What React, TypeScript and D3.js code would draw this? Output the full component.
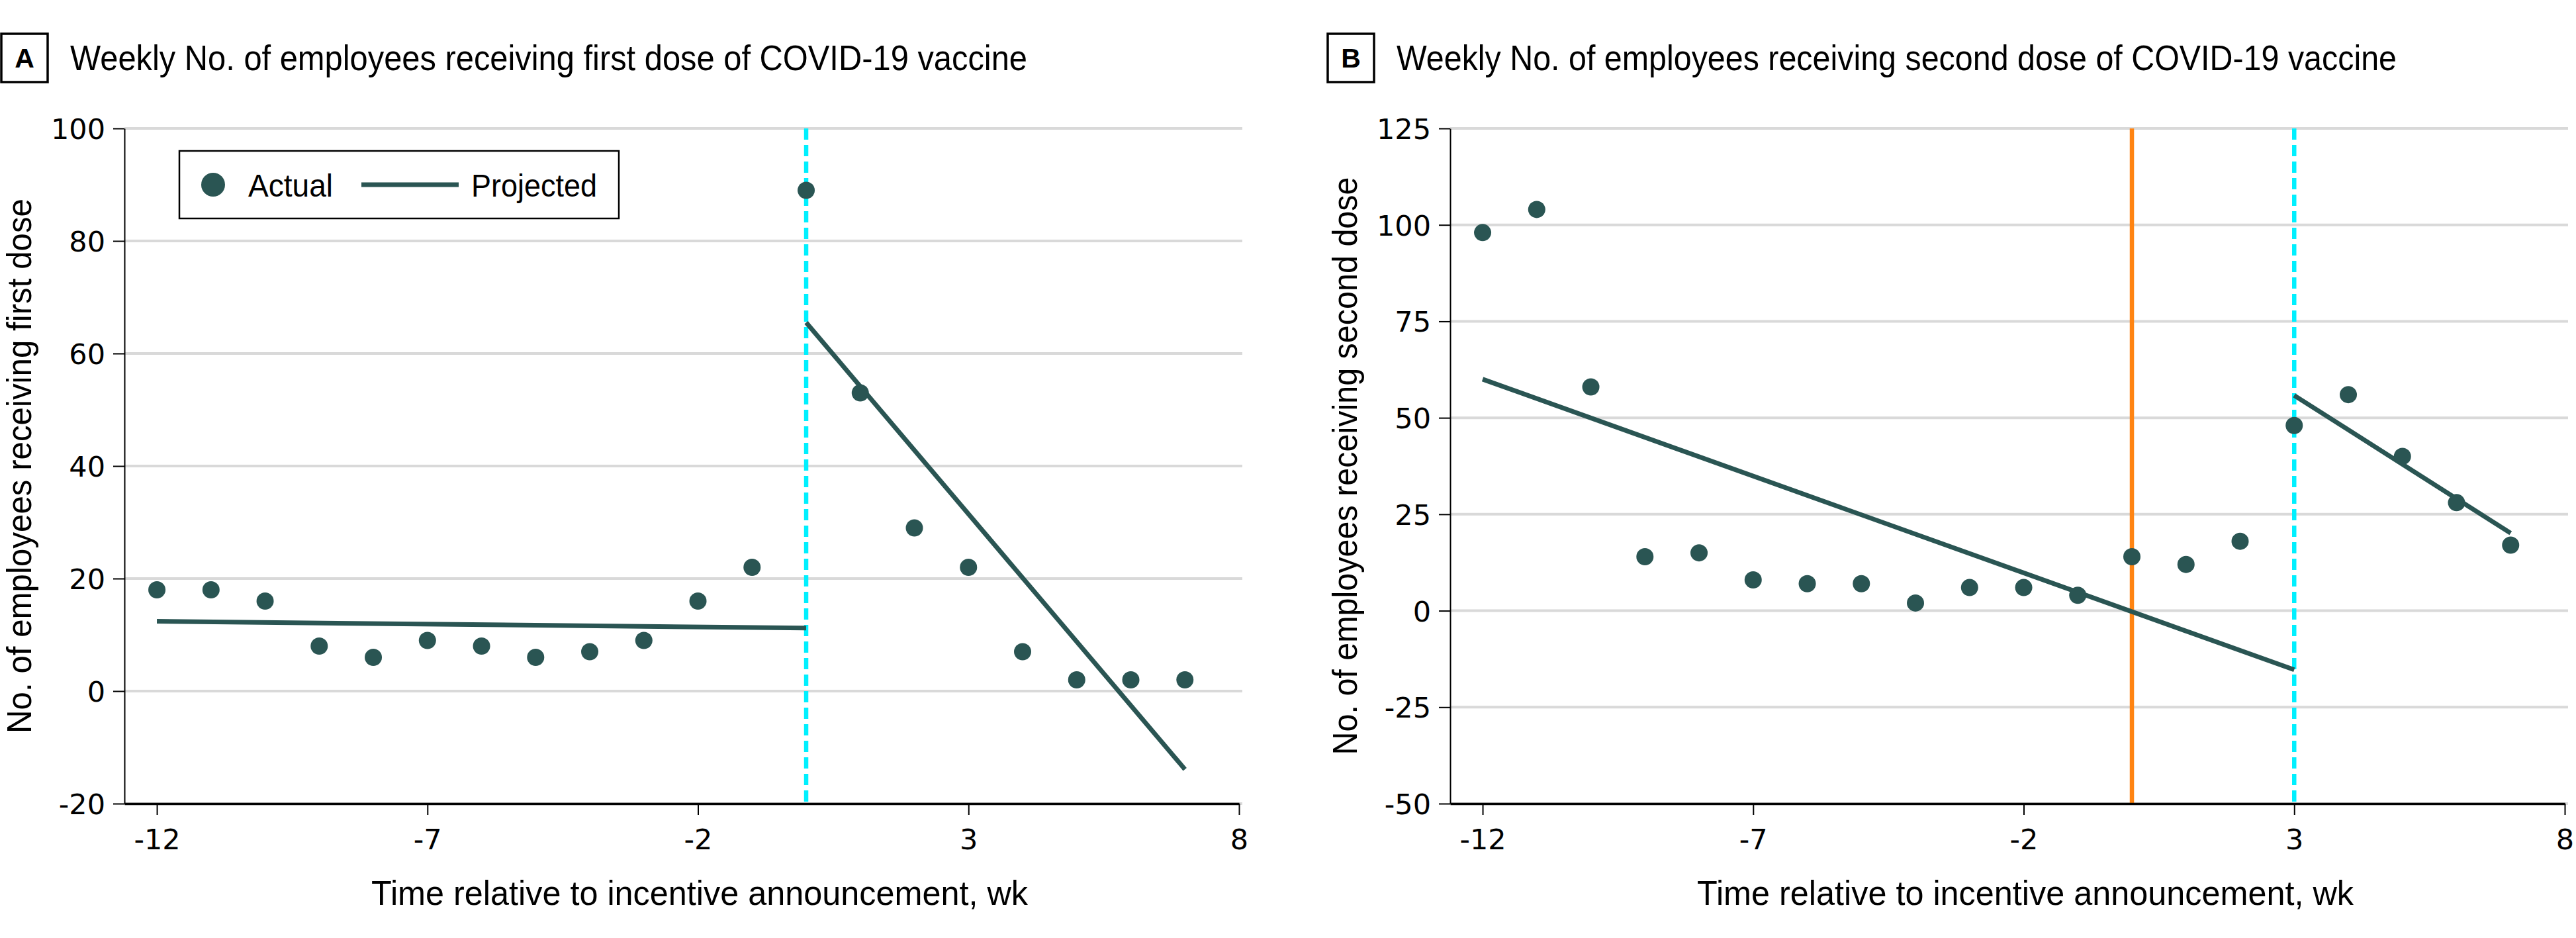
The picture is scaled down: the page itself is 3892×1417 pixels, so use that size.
import React, { useEffect, useRef } from 'react';
import * as d3 from 'd3';

// weeks relative to the incentive announcement
const weeks = [-12, -11, -10, -9, -8, -7, -6, -5, -4, -3, -2, -1, 0, 1, 2, 3, 4, 5, 6, 7];
const firstDose = [18, 18, 16, 8, 6, 9, 8, 6, 7, 9, 16, 22, 89, 53, 29, 22, 7, 2, 2, 2];
const secondDose = [98, 104, 58, 14, 15, 8, 7, 7, 2, 6, 6, 4, 14, 12, 18, 48, 56, 40, 28, 17];

// projected (fitted) segments, end points only
const firstProjX1 = [-12, 0];
const firstProjY1 = [12.4, 11.2];
const firstProjX2 = [0, 7];
const firstProjY2 = [65.5, -13.9];
const secondProjX1 = [-12, 3];
const secondProjY1 = [60, -15.3];
const secondProjX2 = [3, 7];
const secondProjY2 = [55.8, 20.1];

const xTicks = [-12, -7, -2, 3, 8];
const yTicksA = [-20, 0, 20, 40, 60, 80, 100];
const yTicksB = [-50, -25, 0, 25, 50, 75, 100, 125];

const TEAL = '#2a5553';
const CYAN = '#00f0ff';
const ORANGE = '#ff8412';
const NARROW = "'Liberation Sans Narrow','Liberation Sans',Arial,sans-serif";
const TICKFONT = "'DejaVu Sans',Verdana,sans-serif";

const drawPanel = (svg, p) => {
	const g = svg.append('g');
	const x = d3.scaleLinear().domain([-12.6, 8]).range([p.left, p.right]);
	const y = d3.scaleLinear().domain(p.yDomain).range([1214, 194]);

	// gridlines
	g.append('g').selectAll('line').data(p.yTicks).join('line')
		.attr('x1', x(-12.6)).attr('x2', p.right + 5)
		.attr('y1', d => y(d)).attr('y2', d => y(d))
		.attr('stroke', '#d9d9d9').attr('stroke-width', 4);

	// reference lines
	p.refs.forEach(r => {
		g.append('line')
			.attr('x1', x(r.at)).attr('x2', x(r.at))
			.attr('y1', y(p.yDomain[1])).attr('y2', y(p.yDomain[0]))
			.attr('stroke', r.color).attr('stroke-width', 6.5)
			.attr('stroke-dasharray', r.dash ? '17,8' : null);
	});

	// axes
	const yAxis = d3.axisLeft(y).tickValues(p.yTicks).tickSize(17).tickSizeOuter(0).tickPadding(12).tickFormat(d => String(d));
	const ya = g.append('g').attr('transform', `translate(${x(-12.6)},0)`).call(yAxis);
	ya.select('.domain').attr('stroke', '#000').attr('stroke-width', 2);
	ya.selectAll('.tick line').attr('stroke', '#000').attr('stroke-width', 2);
	ya.selectAll('.tick text').attr('font-size', 43).attr('font-family', TICKFONT).attr('fill', '#000').attr('dy', '0.36em');

	const xAxis = d3.axisBottom(x).tickValues(xTicks).tickSize(17).tickSizeOuter(0).tickPadding(21).tickFormat(d => String(d));
	const xa = g.append('g').attr('transform', 'translate(0,1214)').call(xAxis);
	xa.select('.domain').attr('stroke', '#000').attr('stroke-width', 3.5);
	xa.selectAll('.tick line').attr('stroke', '#000').attr('stroke-width', 2);
	xa.selectAll('.tick text').attr('font-size', 43).attr('font-family', TICKFONT).attr('fill', '#000');

	// projected lines
	const line = d3.line().x(d => x(d[0])).y(d => y(d[1]));
	p.proj.forEach(s => {
		g.append('path')
			.datum(s.x.map((v, i) => [v, s.y[i]]))
			.attr('d', line)
			.attr('fill', 'none').attr('stroke', TEAL).attr('stroke-width', 7);
	});

	// actual points
	g.append('g').selectAll('circle').data(p.values).join('circle')
		.attr('cx', (d, i) => x(weeks[i]))
		.attr('cy', d => y(d))
		.attr('r', 13)
		.attr('fill', TEAL);

	// panel letter + title
	g.append('rect').attr('x', p.boxX).attr('y', 51).attr('width', 70).attr('height', 73)
		.attr('fill', 'none').attr('stroke', '#000').attr('stroke-width', 3.5);
	g.append('text').text(p.letter).attr('x', p.boxX + 35).attr('y', 102)
		.attr('text-anchor', 'middle').attr('font-size', 41).attr('font-weight', 'bold').attr('font-family', NARROW);
	g.append('text').text(p.title).attr('x', p.boxX + 104).attr('y', 106)
		.attr('font-size', 53).attr('font-family', NARROW)
		.attr('textLength', p.titleLen).attr('lengthAdjust', 'spacingAndGlyphs');

	// axis titles
	g.append('text').text('Time relative to incentive announcement, wk')
		.attr('x', (p.left + p.right) / 2 + 27).attr('y', 1367)
		.attr('text-anchor', 'middle').attr('font-size', 52).attr('font-family', NARROW)
		.attr('textLength', 992).attr('lengthAdjust', 'spacingAndGlyphs');
	g.append('text').text(p.yTitle)
		.attr('transform', `translate(${p.yTitleX},704) rotate(-90)`)
		.attr('text-anchor', 'middle').attr('font-size', 52).attr('font-family', NARROW)
		.attr('textLength', p.yTitleLen).attr('lengthAdjust', 'spacingAndGlyphs');
};

const drawLegend = (svg) => {
	const lg = svg.append('g');
	lg.append('rect').attr('x', 271).attr('y', 228).attr('width', 664).attr('height', 102)
		.attr('fill', '#fff').attr('stroke', '#000').attr('stroke-width', 2.5);
	lg.append('circle').attr('cx', 322).attr('cy', 279).attr('r', 18).attr('fill', TEAL);
	lg.append('text').text('Actual').attr('x', 375).attr('y', 297)
		.attr('font-size', 49).attr('font-family', NARROW)
		.attr('textLength', 128).attr('lengthAdjust', 'spacingAndGlyphs');
	lg.append('line').attr('x1', 546).attr('x2', 693).attr('y1', 279).attr('y2', 279)
		.attr('stroke', TEAL).attr('stroke-width', 7);
	lg.append('text').text('Projected').attr('x', 712).attr('y', 297)
		.attr('font-size', 49).attr('font-family', NARROW)
		.attr('textLength', 190).attr('lengthAdjust', 'spacingAndGlyphs');
};

const App = () => {
	const ref = useRef(null);

	useEffect(() => {
		document.body.style.margin = '0';
		const svg = d3.select(ref.current);
		svg.selectAll('*').remove();

		drawPanel(svg, {
			left: 188, right: 1872, boxX: 2, letter: 'A',
			title: 'Weekly No. of employees receiving first dose of COVID-19 vaccine', titleLen: 1446,
			yTitle: 'No. of employees receiving first dose', yTitleX: 47, yTitleLen: 808,
			yDomain: [-20, 100], yTicks: yTicksA, values: firstDose,
			refs: [{ at: 0, color: CYAN, dash: true }],
			proj: [{ x: firstProjX1, y: firstProjY1 }, { x: firstProjX2, y: firstProjY2 }],
		});
		drawPanel(svg, {
			left: 2191, right: 3875, boxX: 2006, letter: 'B',
			title: 'Weekly No. of employees receiving second dose of COVID-19 vaccine', titleLen: 1511,
			yTitle: 'No. of employees receiving second dose', yTitleX: 2050, yTitleLen: 873,
			yDomain: [-50, 125], yTicks: yTicksB, values: secondDose,
			refs: [{ at: 0, color: ORANGE, dash: false }, { at: 3, color: CYAN, dash: true }],
			proj: [{ x: secondProjX1, y: secondProjY1 }, { x: secondProjX2, y: secondProjY2 }],
		});
		drawLegend(svg);
	}, []);

	return (
		<svg ref={ref} width={3892} height={1417} style={{ position: 'absolute', left: 0, top: 0, background: '#fff' }} />
	);
};

export default App;
